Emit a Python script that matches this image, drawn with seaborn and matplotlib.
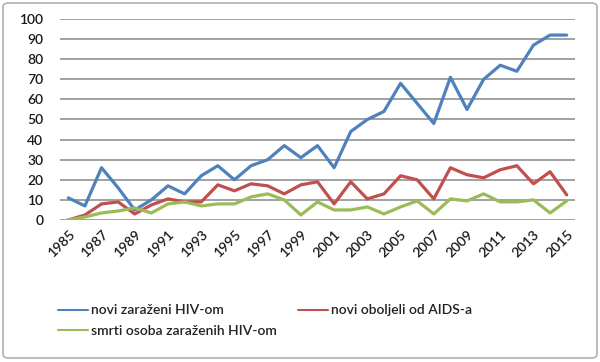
import pandas as pd
import matplotlib.pyplot as plt
import seaborn as sns
import numpy as np
from matplotlib.patches import FancyBboxPatch

sns.set_style('white')
plt.rcParams['font.family'] = ['Lato', 'DejaVu Sans']

years = list(range(1985, 2016))
novi_hiv = [11, 7, 26, 16, 5, 10, 17, 13, 22, 27, 20, 27, 30, 37, 31,
            37, 26, 44, 50, 54, 68, 58, 48, 71, 55, 70, 77, 74, 87, 92, 92]
novi_aids = [0, 2.5, 8, 9, 3, 7.5, 10.5, 9, 9, 17.5, 14.5, 18, 17, 13, 17.5,
             19, 8, 19, 10.5, 13, 22, 20, 10.5, 26, 22.5, 21, 25, 27, 18, 24, 12.5]
smrti = [0, 1.5, 3.5, 4.5, 6, 3.5, 8, 9, 7, 8, 8, 11.5, 13, 10, 2.5,
         9, 5, 5, 6.5, 3, 6.5, 9.5, 3, 10.5, 9.5, 13, 9, 9, 10, 3.5, 9.5]
series_names = ['novi zaraženi HIV-om', 'novi oboljeli od AIDS-a', 'smrti osoba zaraženih HIV-om']
colors = ['#4F81BD', '#C0504D', '#9BBB59']

df = pd.DataFrame({'Godina': years * 3,
                   'Broj': novi_hiv + novi_aids + smrti,
                   'Serija': np.repeat(series_names, len(years))})

fig = plt.figure(figsize=(6, 3.62), dpi=100)
ax = fig.add_axes([60 / 600, 1 - 220 / 362, 515 / 600, 201 / 362])

sns.lineplot(data=df, x='Godina', y='Broj', hue='Serija', palette=colors,
             linewidth=2.3, ax=ax, legend=False)

ax.set_xlim(1984.5, 2015.5)
ax.set_ylim(0, 100)
ax.set_yticks(range(0, 101, 10))
ax.set_xticks(range(1985, 2016, 2))
ax.set_xticklabels([str(y) for y in range(1985, 2016, 2)], rotation=45,
                   ha='right', rotation_mode='anchor')
ax.tick_params(axis='both', length=0, labelsize=10, colors='#1a1a1a')
ax.tick_params(axis='x', pad=6)
ax.tick_params(axis='y', pad=12)
for lbl in ax.get_xticklabels() + ax.get_yticklabels():
    lbl.set_fontweight('semibold')
ax.set_xlabel('')
ax.set_ylabel('')
for s in ax.spines.values():
    s.set_visible(False)
ax.yaxis.grid(True, color='#9a9a9a', linewidth=1.3)
ax.xaxis.grid(False)
ax.set_axisbelow(True)

# legend fills column-wise, so order blue, green | red
order = [0, 2, 1]
handles = [plt.Line2D([], [], color=colors[i], linewidth=1.5) for i in order]
labels = [series_names[i] for i in order]
fig.legend(handles, labels, loc='upper left', ncol=2, frameon=False,
           bbox_to_anchor=(45 / 600, 1 - 292 / 362),
           prop={'size': 10, 'weight': 'semibold'},
           handlelength=2.2, handletextpad=0.2, columnspacing=1.5,
           labelspacing=0.6, labelcolor='#222222')

border = FancyBboxPatch((3 / 600, 4 / 362), 594 / 600, 355 / 362,
                        boxstyle='round,pad=0,rounding_size=0.01',
                        transform=fig.transFigure, fill=False,
                        edgecolor='#b0b0b0', linewidth=1.2)
fig.patches.append(border)

fig.savefig('out.png', dpi=100)
